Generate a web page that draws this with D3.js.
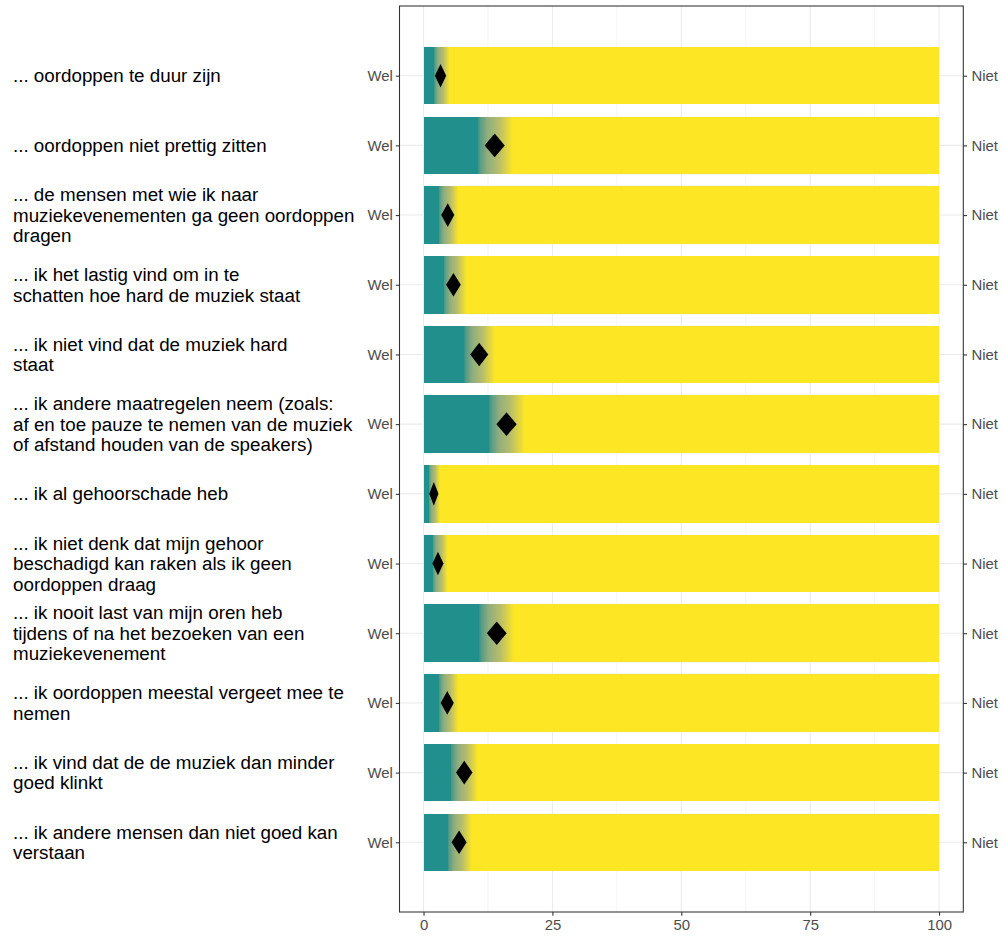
<!DOCTYPE html>
<html>
<head>
<meta charset="utf-8">
<script src="https://cdn.jsdelivr.net/npm/d3@7"></script>
<style>
  html, body { margin: 0; padding: 0; background: #ffffff; }
  svg { display: block; }
</style>
</head>
<body>
<svg id="chart" width="1004" height="938"></svg>
<script>
// ---- data ----
const labels = [
  ["... oordoppen te duur zijn"],
  ["... oordoppen niet prettig zitten"],
  ["... de mensen met wie ik naar", "muziekevenementen ga geen oordoppen", "dragen"],
  ["... ik het lastig vind om in te", "schatten hoe hard de muziek staat"],
  ["... ik niet vind dat de muziek hard", "staat"],
  ["... ik andere maatregelen neem (zoals:", "af en toe pauze te nemen van de muziek", "of afstand houden van de speakers)"],
  ["... ik al gehoorschade heb"],
  ["... ik niet denk dat mijn gehoor", "beschadigd kan raken als ik geen", "oordoppen draag"],
  ["... ik nooit last van mijn oren heb", "tijdens of na het bezoeken van een", "muziekevenement"],
  ["... ik oordoppen meestal vergeet mee te", "nemen"],
  ["... ik vind dat de de muziek dan minder", "goed klinkt"],
  ["... ik andere mensen dan niet goed kan", "verstaan"]
];
const lower    = [1.9, 10.3, 2.8, 3.7, 7.7, 12.5, 0.9, 1.6, 10.6, 2.8, 5.1, 4.5];
const estimate = [3.3, 13.8, 4.7, 5.8, 10.8, 16.1, 2.0, 2.8, 14.2, 4.6, 7.9, 6.9];
const upper    = [5.1, 17.4, 6.8, 8.4, 13.9, 19.7, 3.2, 4.7, 17.6, 6.8, 10.6, 9.4];
const leftTickLabel = "Wel";
const rightTickLabel = "Niet";
const xTicks = [0, 25, 50, 75, 100];
const xMinorTicks = [12.5, 37.5, 62.5, 87.5];

// ---- layout ----
const panel = { left: 399.5, right: 963.3, top: 6, bottom: 912 };
const teal = "#21908C", yellow = "#FDE725";

const svg = d3.select("#chart");

const x = d3.scaleLinear().domain([-4.66, 104.7]).range([panel.left, panel.right]);
const idx = d3.range(labels.length);
const y = d3.scalePoint().domain(idx).range([panel.top, panel.bottom]).padding(1);
const barH = 57.5;

// gradient
const defs = svg.append("defs");
const grad = defs.append("linearGradient").attr("id", "ci").attr("x1", "0").attr("x2", "1").attr("y1", "0").attr("y2", "0");
[[0, "#21908C"], [0.1, "#5A9C86"], [0.3, "#90AE7E"], [0.6, "#B6BD6C"], [0.85, "#E3D640"], [1, "#FDE725"]]
  .forEach(([o, c]) => grad.append("stop").attr("offset", o).attr("stop-color", c));

// gridlines
const grid = svg.append("g");
grid.selectAll("line.minor").data(xMinorTicks).enter().append("line")
  .attr("x1", d => x(d)).attr("x2", d => x(d))
  .attr("y1", panel.top).attr("y2", panel.bottom)
  .attr("stroke", "#EBEBEB").attr("stroke-width", 0.55);
grid.selectAll("line.major").data(xTicks).enter().append("line")
  .attr("x1", d => x(d)).attr("x2", d => x(d))
  .attr("y1", panel.top).attr("y2", panel.bottom)
  .attr("stroke", "#EBEBEB").attr("stroke-width", 1.07);
grid.selectAll("line.h").data(idx).enter().append("line")
  .attr("x1", panel.left).attr("x2", panel.right)
  .attr("y1", d => y(d)).attr("y2", d => y(d))
  .attr("stroke", "#EBEBEB").attr("stroke-width", 1.07);

// bars
const bars = svg.append("g").attr("shape-rendering", "crispEdges");
bars.selectAll("rect.full").data(idx).enter().append("rect")
  .attr("x", x(0)).attr("width", x(100) - x(0))
  .attr("y", d => y(d) - barH / 2).attr("height", barH)
  .attr("fill", yellow);
bars.selectAll("rect.ci").data(idx).enter().append("rect")
  .attr("x", d => x(lower[d])).attr("width", d => x(upper[d]) - x(lower[d]))
  .attr("y", d => y(d) - barH / 2).attr("height", barH)
  .attr("fill", "url(#ci)");
bars.selectAll("rect.teal").data(idx).enter().append("rect")
  .attr("x", x(0)).attr("width", d => x(lower[d]) - x(0) + 1)
  .attr("y", d => y(d) - barH / 2).attr("height", barH)
  .attr("fill", teal);

// diamonds
const dh = 11.8;
svg.append("g").selectAll("path").data(idx).enter().append("path")
  .attr("d", d => {
    const cx = x(estimate[d]), cy = y(d);
    const hw = 2 + 0.22 * (x(upper[d]) - x(lower[d]));
    return `M${cx - hw},${cy}L${cx},${cy - dh}L${cx + hw},${cy}L${cx},${cy + dh}Z`;
  })
  .attr("fill", "#000");

// panel border
svg.append("rect")
  .attr("x", panel.left).attr("y", panel.top)
  .attr("width", panel.right - panel.left).attr("height", panel.bottom - panel.top)
  .attr("fill", "none").attr("stroke", "#333333").attr("stroke-width", 1.07);

// bottom axis
const xAxis = d3.axisBottom(x).tickValues(xTicks).tickSize(3.7).tickPadding(3.5).tickFormat(d3.format("d"));
const gx = svg.append("g").attr("transform", `translate(0,${panel.bottom})`).call(xAxis);
gx.select(".domain").remove();
gx.selectAll(".tick line").attr("stroke", "#333333").attr("stroke-width", 1.07);
gx.selectAll(".tick text").attr("fill", "#4D4D4D").style("font-family", "Liberation Sans, Arial, sans-serif").style("font-size", "14.9px");

// left axis (Wel)
const yLeft = d3.axisLeft(y).tickSize(3.7).tickPadding(3).tickFormat(() => leftTickLabel);
const gl = svg.append("g").attr("transform", `translate(${panel.left},0)`).call(yLeft);
gl.select(".domain").remove();
gl.selectAll(".tick line").attr("stroke", "#333333").attr("stroke-width", 1.07);
gl.selectAll(".tick text").attr("fill", "#4D4D4D").style("font-family", "Liberation Sans, Arial, sans-serif").style("font-size", "14.9px");

// right axis (Niet)
const yRight = d3.axisRight(y).tickSize(3.7).tickPadding(4.5).tickFormat(() => rightTickLabel);
const gr = svg.append("g").attr("transform", `translate(${panel.right},0)`).call(yRight);
gr.select(".domain").remove();
gr.selectAll(".tick line").attr("stroke", "#333333").attr("stroke-width", 1.07);
gr.selectAll(".tick text").attr("fill", "#4D4D4D").style("font-family", "Liberation Sans, Arial, sans-serif").style("font-size", "14.9px");

// category labels (left, left-aligned)
const lineH = 20.6;
const lab = svg.append("g");
idx.forEach(i => {
  const lines = labels[i];
  const t = lab.append("text")
    .attr("x", 13)
    .attr("fill", "#000")
    .style("font-family", "Liberation Sans, Arial, sans-serif")
    .style("font-size", "18.8px");
  lines.forEach((ln, k) => {
    t.append("tspan")
      .attr("x", 13)
      .attr("y", y(i) + (k - (lines.length - 1) / 2) * lineH)
      .attr("dy", "0.35em")
      .text(ln);
  });
});
</script>
</body>
</html>
